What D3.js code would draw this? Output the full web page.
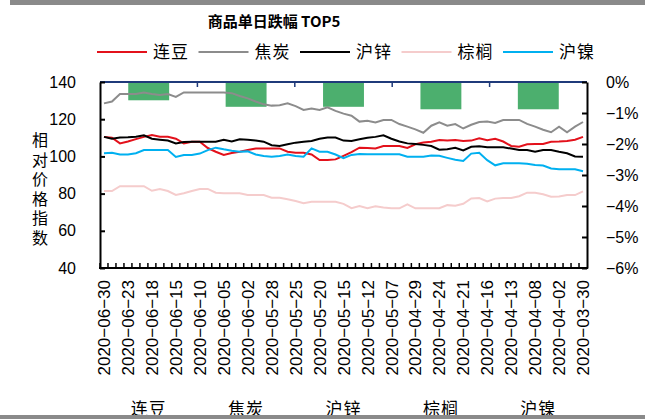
<!DOCTYPE html>
<html>
<head>
<meta charset="utf-8">
<script src="https://cdn.jsdelivr.net/npm/d3@7"></script>
<style>
  body { margin: 0; background: #fff; }
  svg { display: block; }
  text { font-family: "Liberation Sans", Arial, "Noto Sans CJK SC", sans-serif; }
  .cjk { font-family: "Noto Sans CJK SC", "Liberation Sans", sans-serif; }
</style>
</head>
<body>
<svg id="chart"></svg>
<script>
// trading days, newest first (the chart runs right to left in time)
const dates = ["2020-06-30","2020-06-29","2020-06-24","2020-06-23","2020-06-22","2020-06-19","2020-06-18","2020-06-17","2020-06-16","2020-06-15",
  "2020-06-12","2020-06-11","2020-06-10","2020-06-09","2020-06-08","2020-06-05","2020-06-04","2020-06-03","2020-06-02","2020-06-01",
  "2020-05-29","2020-05-28","2020-05-27","2020-05-26","2020-05-25","2020-05-22","2020-05-21","2020-05-20","2020-05-19","2020-05-18",
  "2020-05-15","2020-05-14","2020-05-13","2020-05-12","2020-05-11","2020-05-08","2020-05-07","2020-05-06","2020-04-30","2020-04-29",
  "2020-04-28","2020-04-27","2020-04-24","2020-04-23","2020-04-22","2020-04-21","2020-04-20","2020-04-17","2020-04-16","2020-04-15",
  "2020-04-14","2020-04-13","2020-04-10","2020-04-09","2020-04-08","2020-04-07","2020-04-03","2020-04-02","2020-04-01","2020-03-31","2020-03-30"];

// relative price index (left axis)
const lianDou = [110.5,110,107,108,109.3,110.5,111.5,110.6,110.5,109.5,107,107.9,107.9,104.5,102.5,100.8,101.8,102.5,103.4,104.2,
  104.3,104.3,104.3,102.5,102,102,101,98,98,98.4,100.3,102.3,104.7,104.5,104.3,105.6,105.6,105.6,104.5,106.5,
  107.5,107.9,108.8,108.5,108.8,108.3,108.5,109.7,108.7,109.5,108,105.6,105.2,106.5,106.7,106.7,107.9,108,108.3,109,110.5];
const jiaoTan = [128.5,129.5,133.5,133.5,133.5,134.4,133.5,133,133.5,132,134.4,134.4,134.4,134.4,134.4,134.4,134,132.5,131.2,129.5,
  128,127.3,127.5,128.5,127,125,125.8,125,126.4,124.5,123,121.9,118.7,119.2,118.3,119.6,119.6,117.4,116,114.5,
  112.7,116.5,118.3,116.5,117.4,115,117,118.5,118.7,118,119.6,119.6,119.6,117.5,116,114.3,113,116,113,116,118.5];
const huXin = [110.5,109.5,110.1,110.3,110.6,111.3,109.5,109,108.5,107,107.7,107.9,107.9,107.9,107.9,109,108,109.2,109,108.5,
  107.9,106,105.6,106.5,107.4,107.9,108.3,109.5,110.1,110.1,108.5,108.3,109.2,110,110.5,111.3,109.5,108,107,106.7,
  106.2,105.6,103.6,103.8,104.6,103.2,105.2,105.4,104.9,104.9,104.9,104.2,103.4,103.4,102.5,103.4,103.4,102.5,101.7,100,99.8];
const zongLv = [81.4,81.4,84,84,84,84,81.5,82.5,81.4,79.3,80.2,81.4,82.5,82.5,80.5,80.2,80.2,80.2,79.3,79.2,
  79.2,77.8,77.8,77,76,74.8,75.6,75.6,75.6,75.6,74.5,72.2,73.3,72.2,73.2,72.5,72.1,72.1,74.2,72.1,
  72.1,72.1,72.1,73.8,73.5,74.5,77.4,77.6,75.8,77.3,77.6,77.6,78.6,80.5,80.4,79.6,78.3,78.5,79.2,79.2,81.2];
const huNie = [101.7,102,101,101,101.7,103.4,103.4,103.4,103.4,99.7,100.8,100.8,101.5,103.4,104.7,103.8,103,102.5,102.7,101,
  100.2,99.8,100.2,101,100.2,99.8,104.3,102.5,102.5,101,99,100.8,101.3,101.1,101.1,101.1,101.1,101.1,99.8,99.8,
  99.8,100.5,100.3,99.2,98.2,97.5,101.5,102,98,95.2,96.3,96.3,96.3,96,95.4,95.1,93.5,93.1,93.1,93.1,92];

const seriesNames = ["连豆","焦炭","沪锌","棕榈","沪镍"];
const seriesColors = ["#e3111b","#8c8c8c","#000000","#f5cccc","#00b0f0"];
const seriesValues = [lianDou, jiaoTan, huXin, zongLv, huNie];

// single-day drop, % (right axis)
const dropPct = [-0.59,-0.80,-0.80,-0.88,-0.88];

const leftTicks = [40,60,80,100,120,140];
const rightTicks = [0,-1,-2,-3,-4,-5,-6];

const W = 645, H = 419;
const mLeft = 100, mRight = 587, mTop = 82, mBottom = 268;

const svg = d3.select("#chart").attr("width", W).attr("height", H);

// frame bars
svg.append("rect").attr("x", 10).attr("y", 0).attr("width", W - 10).attr("height", 5).attr("fill", "#8a8a8a");

// title
svg.append("text").attr("class", "cjk")
  .attr("x", 274).attr("y", 27)
  .attr("text-anchor", "middle")
  .attr("font-size", 15).attr("font-weight", "bold")
  .text("商品单日跌幅  TOP5");

// legend
const legend = svg.append("g");
seriesNames.forEach((name, i) => {
  const lx = 97 + i * 101.5;
  legend.append("line")
    .attr("x1", lx).attr("x2", lx + 50).attr("y1", 52).attr("y2", 52)
    .attr("stroke", seriesColors[i]).attr("stroke-width", 2);
  legend.append("text").attr("class", "cjk")
    .attr("x", lx + 56).attr("y", 52).attr("dy", "0.36em")
    .attr("font-size", 17).attr("letter-spacing", 1)
    .text(name);
});

// scales
const x = d3.scaleBand().domain(dates).range([mLeft, mRight]);
const xCat = d3.scaleBand().domain(seriesNames).range([mLeft, mRight]);
const yL = d3.scaleLinear().domain([40, 140]).range([mBottom, mTop]);
const yR = d3.scaleLinear().domain([-6, 0]).range([mBottom, mTop]);

// bars on the right axis
const barW = xCat.bandwidth() * 0.42;
svg.append("g").selectAll("rect")
  .data(dropPct)
  .join("rect")
  .attr("x", (d, i) => xCat(seriesNames[i]) + (xCat.bandwidth() - barW) / 2)
  .attr("y", yR(0))
  .attr("width", barW)
  .attr("height", d => yR(d) - yR(0))
  .attr("fill", "#4caf6e");

// lines
const line = d3.line()
  .x((d, i) => x(dates[i]) + x.bandwidth() / 2)
  .y(d => yL(d));

seriesValues.forEach((vals, i) => {
  svg.append("path")
    .datum(vals)
    .attr("fill", "none")
    .attr("stroke", seriesColors[i])
    .attr("stroke-width", 2)
    .attr("d", line);
});

// top category axis (navy)
const topAxis = svg.append("g");
topAxis.append("line")
  .attr("x1", mLeft).attr("x2", mRight).attr("y1", mTop).attr("y2", mTop)
  .attr("stroke", "#1f3a7a").attr("stroke-width", 2);
topAxis.selectAll(".tk")
  .data(seriesNames.slice(1))
  .join("line")
  .attr("x1", d => xCat(d)).attr("x2", d => xCat(d))
  .attr("y1", mTop).attr("y2", mTop + 5)
  .attr("stroke", "#1f3a7a").attr("stroke-width", 1.5);

// left axis
const gL = svg.append("g")
  .attr("transform", `translate(${mLeft},0)`)
  .call(d3.axisLeft(yL).tickValues(leftTicks).tickSizeInner(-5).tickSizeOuter(0).tickPadding(24));
gL.select(".domain").attr("stroke", "#000").attr("stroke-width", 2);
gL.selectAll(".tick line").attr("stroke", "#000").attr("stroke-width", 2);
gL.selectAll("text").attr("font-size", 16).attr("fill", "#000");

// right axis
const gR = svg.append("g")
  .attr("transform", `translate(${mRight},0)`)
  .call(d3.axisRight(yR).tickValues(rightTicks).tickSizeInner(-5).tickSizeOuter(0).tickPadding(19)
    .tickFormat(d => (d < 0 ? "\u2212" : "") + Math.abs(d) + "%"));
gR.select(".domain").attr("stroke", "#000").attr("stroke-width", 2);
gR.selectAll(".tick line").attr("stroke", "#000").attr("stroke-width", 2);
gR.selectAll("text").attr("font-size", 16).attr("fill", "#000");

// bottom axis: line, boundary ticks, rotated date labels every 3rd day
const gB = svg.append("g");
gB.append("line")
  .attr("x1", mLeft - 1).attr("x2", mRight + 1).attr("y1", mBottom).attr("y2", mBottom)
  .attr("stroke", "#000").attr("stroke-width", 2);
gB.selectAll(".btk")
  .data(dates)
  .join("line")
  .attr("x1", d => x(d)).attr("x2", d => x(d))
  .attr("y1", mBottom).attr("y2", mBottom - 5)
  .attr("stroke", "#000").attr("stroke-width", 1.5);
gB.selectAll(".lbl")
  .data(dates.filter((d, i) => i % 3 === 0))
  .join("text")
  .attr("transform", d => `translate(${x(d) + x.bandwidth() / 2},${mBottom + 12}) rotate(-90)`)
  .attr("text-anchor", "end")
  .attr("dy", "0.36em")
  .attr("font-size", 17)
  .text(d => d.replace(/-/g, "\u2212"));

// y-axis title, written vertically
svg.append("text").attr("class", "cjk")
  .attr("x", 40).attr("y", 132)
  .attr("writing-mode", "vertical-rl")
  .attr("font-size", 16).attr("letter-spacing", 3.5)
  .text("相对价格指数");

// category names under the chart (their lower edge sits under the bottom frame bar)
svg.append("g").selectAll("text")
  .data(seriesNames)
  .join("text").attr("class", "cjk")
  .attr("x", d => xCat(d) + xCat.bandwidth() / 2)
  .attr("y", 415)
  .attr("text-anchor", "middle")
  .attr("font-size", 17).attr("letter-spacing", 1)
  .text(d => d);

svg.append("rect").attr("x", 0).attr("y", 415).attr("width", W).attr("height", 4).attr("fill", "#8a8a8a");
</script>
</body>
</html>
